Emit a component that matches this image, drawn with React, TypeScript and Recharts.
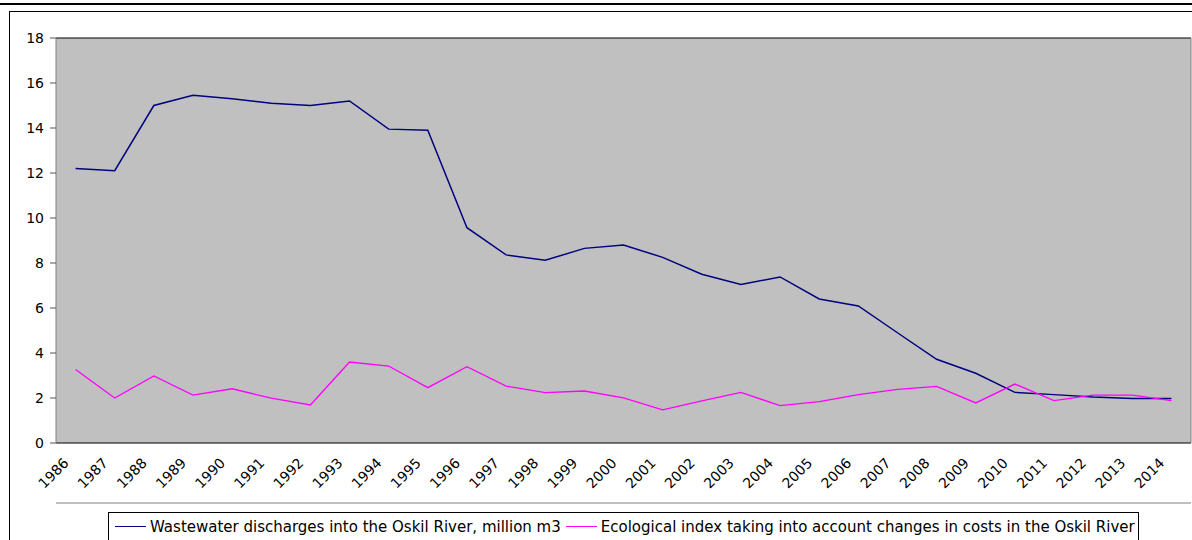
import { LineChart, Line, XAxis, YAxis, CartesianGrid, Legend } from 'recharts'

const years = [
  '1986', '1987', '1988', '1989', '1990', '1991', '1992', '1993', '1994', '1995',
  '1996', '1997', '1998', '1999', '2000', '2001', '2002', '2003', '2004', '2005',
  '2006', '2007', '2008', '2009', '2010', '2011', '2012', '2013', '2014',
]

// million m3
const wastewater = [
  12.2, 12.1, 15.0, 15.45, 15.3, 15.1, 15.0, 15.2, 13.95, 13.9,
  9.57, 8.36, 8.12, 8.65, 8.8, 8.25, 7.5, 7.04, 7.38, 6.4,
  6.09, 4.9, 3.72, 3.1, 2.25, 2.15, 2.04, 1.98, 1.98,
]

const ecoIndex = [
  3.27, 2.0, 2.98, 2.13, 2.41, 1.99, 1.69, 3.6, 3.42, 2.46,
  3.39, 2.53, 2.24, 2.31, 2.01, 1.47, 1.87, 2.25, 1.66, 1.84,
  2.15, 2.38, 2.52, 1.78, 2.62, 1.88, 2.13, 2.13, 1.88,
]

const seriesNames = [
  'Wastewater discharges into the Oskil River, million m3',
  'Ecological index taking into account changes in costs in the Oskil River',
]

const yTicks = [0, 2, 4, 6, 8, 10, 12, 14, 16, 18]

const FONT = "'DejaVu Sans', sans-serif"

// tick marks sit on the boundaries between years
const boundaryTicks = years.map((_, i) => i).concat(years.length)

const data = years.map((year, i) => ({
  pos: i + 0.5,
  year,
  wastewater: wastewater[i],
  eco: ecoIndex[i],
}))

const YearTick = (props: any) => {
  const { x, y, payload } = props
  const tx = x - 6
  const ty = y + 21
  return (
    <text
      x={tx}
      y={ty}
      textAnchor="end"
      fontFamily={FONT}
      fontSize={14}
      fill="#000"
      transform={`rotate(-45, ${tx}, ${ty})`}
    >
      {payload.value}
    </text>
  )
}

const LegendBox = (props: any) => {
  const items = props.payload || []
  return (
    <div
      style={{
        boxSizing: 'border-box',
        width: 1031,
        height: 36,
        border: '1px solid #000',
        background: '#fff',
        display: 'flex',
        alignItems: 'flex-start',
        paddingLeft: 6,
        paddingTop: 4,
        fontFamily: FONT,
        fontSize: 15,
        color: '#000',
        whiteSpace: 'nowrap',
      }}
    >
      {items.map((item: any, i: number) => (
        <div key={item.value} style={{ display: 'flex', alignItems: 'center', marginLeft: i === 0 ? 0 : 5, height: 19 }}>
          <span style={{ display: 'inline-block', width: 31, height: 0, borderTop: `1.5px solid ${item.color}`, marginRight: 4 }} />
          <span>{item.value}</span>
        </div>
      ))}
    </div>
  )
}

export default function App() {
  return (
    <div
      style={{
        position: 'absolute',
        left: 0,
        top: 0,
        width: 1192,
        height: 540,
        overflow: 'hidden',
        background: '#fff',
      }}
    >
      {/* page rule and chart frame */}
      <div style={{ position: 'absolute', left: 0, top: 3, width: 1192, height: 2, background: '#000' }} />
      <div style={{ position: 'absolute', left: 9, top: 11, width: 1250, height: 600, border: '1px solid #000' }} />

      <div style={{ position: 'absolute', left: 0, top: 0 }}>
        <LineChart width={1192} height={540} data={data} margin={{ top: 38, right: 0, left: 10, bottom: 31 }}>
          <CartesianGrid vertical={false} stroke="#000" fill="#c0c0c0" fillOpacity={1} />
          <XAxis
            xAxisId="main"
            type="number"
            dataKey="pos"
            domain={[0, years.length]}
            ticks={boundaryTicks}
            tick={false}
            tickSize={4}
            height={6}
            axisLine={{ stroke: '#808080' }}
            tickLine={{ stroke: '#555' }}
          />
          <XAxis
            xAxisId="labels"
            type="category"
            dataKey="year"
            scale="band"
            interval={0}
            tick={<YearTick />}
            tickLine={false}
            axisLine={false}
            tickSize={0}
            tickMargin={0}
            height={60}
          />
          <YAxis
            yAxisId="left"
            domain={[0, 18]}
            ticks={yTicks}
            width={46}
            tickSize={6}
            tickMargin={6}
            interval={0}
            axisLine={{ stroke: '#808080' }}
            tickLine={{ stroke: '#555' }}
            tick={{ fill: '#000', fontSize: 14, fontFamily: FONT }}
          />
          <YAxis
            yAxisId="right"
            orientation="right"
            domain={[0, 18]}
            width={1}
            tick={false}
            tickLine={false}
            axisLine={{ stroke: '#808080' }}
          />
          <Legend
            layout="vertical"
            align="center"
            verticalAlign="middle"
            itemSorter={(item: any) => seriesNames.indexOf(item.value)}
            wrapperStyle={{ left: 108, top: 512, width: 1031, height: 36 }}
            content={<LegendBox />}
          />
          <Line
            xAxisId="main"
            yAxisId="left"
            type="linear"
            dataKey="wastewater"
            name={seriesNames[0]}
            stroke="#000080"
            strokeWidth={1.5}
            dot={false}
            isAnimationActive={false}
          />
          <Line
            xAxisId="main"
            yAxisId="left"
            type="linear"
            dataKey="eco"
            name={seriesNames[1]}
            stroke="#ff00ff"
            strokeWidth={1.3}
            dot={false}
            isAnimationActive={false}
          />
        </LineChart>
      </div>
    </div>
  )
}
